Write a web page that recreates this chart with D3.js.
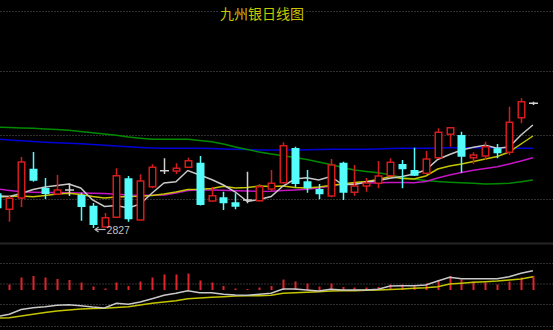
<!DOCTYPE html>
<html>
<head>
<meta charset="utf-8">
<script src="https://cdn.jsdelivr.net/npm/d3@7"></script>
<style>
  html, body { margin: 0; padding: 0; background: #000; }
  svg { display: block; }
</style>
</head>
<body>
<svg id="viz" width="553" height="330"></svg>
<script>
/* Data */

const title = '九州银日线图';
const lowLabel = '2827';
const lowIndex = 8;

// daily candles (index 0 is cut off at the left edge)
const open  = [2966, 2902, 2947, 3064, 2987, 2963, 2979, 2959, 2916, 2831, 2870, 3026, 2859, 2992, 3056, 3055, 3070, 3088, 2935, 2950, 2930, 2939, 2936, 2983, 3008, 3147, 3014, 2983, 2955, 3088, 2970, 2995, 3006, 3036, 3083, 3059, 3046, 3108, 3202, 3199, 3108, 3115, 3146, 3130, 3268, 3326];
const high  = [2979, 2955, 3111, 3131, 3027, 3039, 3006, 2968, 2927, 2887, 3066, 3035, 3042, 3082, 3106, 3086, 3108, 3115, 2992, 2972, 2966, 3052, 3003, 3059, 3170, 3152, 3059, 3003, 3103, 3092, 3079, 3027, 3095, 3106, 3099, 3148, 3135, 3226, 3231, 3212, 3130, 3172, 3163, 3312, 3346, 3332];
const low   = [2891, 2852, 2911, 3012, 2943, 2959, 2955, 2856, 2827, 2830, 2867, 2852, 2859, 2986, 3043, 3043, 3067, 2917, 2933, 2899, 2902, 2926, 2933, 2972, 3005, 2990, 2968, 2942, 2950, 2939, 2956, 2972, 2986, 3033, 2986, 3035, 3043, 3105, 3152, 3048, 3083, 3099, 3106, 3119, 3246, 3319];
const close = [2906, 2946, 3091, 3016, 2963, 2979, 2979, 2911, 2839, 2868, 3036, 2862, 3015, 3070, 3056, 3066, 3096, 2919, 2956, 2926, 2912, 2939, 2992, 3006, 3156, 3003, 2986, 2962, 3079, 2968, 2995, 3007, 3035, 3090, 3062, 3036, 3103, 3210, 3228, 3112, 3119, 3152, 3126, 3250, 3332, 3326];

// moving averages
const ma5   = [2955, 2953, 2965, 2981, 2991, 2997, 3003, 2987, 2939, 2913, 2917, 2907, 2923, 2967, 3007, 3012, 3057, 3039, 3021, 2999, 2971, 2933, 2941, 2953, 2995, 3023, 3028, 3019, 3033, 3001, 3001, 3011, 3017, 3026, 3033, 3043, 3059, 3101, 3121, 3139, 3150, 3158, 3146, 3151, 3199, 3239];
const ma10  = [2950, 2953, 2955, 2952, 2957, 2963, 2966, 2961, 2953, 2947, 2951, 2953, 2954, 2957, 2963, 2971, 2981, 2982, 2985, 2994, 2987, 2989, 2995, 2993, 2995, 2989, 2987, 2991, 2997, 3003, 3009, 3013, 3021, 3033, 3025, 3023, 3035, 3063, 3075, 3083, 3093, 3103, 3113, 3131, 3163, 3195];
const ma20  = [2983, 2977, 2972, 2970, 2969, 2969, 2968, 2967, 2966, 2965, 2962, 2959, 2958, 2958, 2959, 2967, 2977, 2979, 2979, 2978, 2976, 2975, 2973, 2974, 2977, 2979, 2982, 2987, 2995, 3003, 3005, 3007, 3008, 3009, 3009, 3008, 3013, 3027, 3039, 3049, 3058, 3065, 3072, 3083, 3095, 3108];
const ma60  = [3230, 3229, 3227, 3226, 3223, 3221, 3218, 3213, 3208, 3203, 3198, 3191, 3186, 3182, 3182, 3182, 3182, 3177, 3172, 3163, 3151, 3141, 3131, 3123, 3116, 3109, 3101, 3091, 3081, 3069, 3059, 3053, 3048, 3040, 3029, 3023, 3017, 3013, 3010, 3008, 3006, 3003, 3004, 3006, 3012, 3019];
const ma120 = [3183, 3179, 3176, 3173, 3170, 3168, 3166, 3164, 3161, 3158, 3155, 3152, 3149, 3147, 3146, 3146, 3146, 3146, 3145, 3143, 3142, 3141, 3139, 3139, 3139, 3139, 3140, 3141, 3142, 3142, 3142, 3142, 3143, 3145, 3146, 3146, 3146, 3147, 3148, 3148, 3148, 3148, 3148, 3147, 3146, 3146];

// MACD panel
const macd = [4, 11, 25, 28, 25, 22, 20, 15, 7, 3, 15, 8, 17, 25, 31, 31, 33, 19, 15, 8, 3, 2, 5, 8, 21, 17, 13, 7, 13, 6, 5, 5, 6, 11, 11, 10, 13, 20, 28, 21, 17, 15, 11, 17, 25, 28];
const dif  = [-53, -48.6, -39, -35.4, -33.4, -30.6, -29.4, -31.4, -34, -36, -26.6, -28.6, -24, -17.4, -10.6, -6.6, -1.4, -5.4, -5.4, -8.6, -10, -10.6, -8.6, -6.6, 2, 2, 0, -2, 1.4, 0, 0, 0, 1.4, 8, 8.6, 8.6, 10, 18, 25.4, 22.6, 22.6, 22.6, 22.6, 26.6, 33.4, 38.6];
const dea  = [-56.4, -55.6, -52, -48.4, -45, -42, -40, -38, -37.2, -36.6, -35, -33.4, -30, -26.6, -24, -21.4, -17.4, -16, -14.6, -13.4, -12, -11.6, -11.4, -10.6, -6.6, -5.6, -4.6, -3.4, -2, -1.6, -1.4, -0.6, 0, 1, 2, 3.4, 4.6, 6.6, 12, 13.6, 15.4, 16.6, 18, 20, 22, 26.6];

/* Visualization */

const width = 553;
const svg = d3.select('#viz');

const candles = open.map((o, i) => ({ i, o, h: high[i], l: low[i], c: close[i] }));

const xScale = d3.scaleLinear().domain([0, 45]).range([-2.6, 532.9]);
const yScale = d3.scaleLinear().domain([2767, 3455]).range([243, 71]);
const mScale = d3.scaleLinear().domain([-70, 94]).range([325, 243]);

// background
svg.append('rect').attr('width', width).attr('height', 330).attr('fill', '#000');

// grid lines
const grid = svg.append('g');
grid.selectAll('line.dot')
  .data([11, 71, 135, 199, 263, 283.5, 304, 326])
  .join('line')
  .attr('class', 'dot')
  .attr('x1', 0).attr('x2', width)
  .attr('y1', (d) => d + 0.5).attr('y2', (d) => d + 0.5)
  .attr('stroke', '#303030')
  .attr('stroke-width', 1)
  .attr('stroke-dasharray', '2,1');

grid.append('line')
  .attr('x1', 0).attr('x2', width)
  .attr('y1', 243.5).attr('y2', 243.5)
  .attr('stroke', '#262626')
  .attr('stroke-width', 2);

// title
const titleText = svg.append('text')
  .attr('x', 262)
  .attr('y', 19)
  .attr('text-anchor', 'middle')
  .attr('font-family', '"Noto Sans CJK SC", sans-serif')
  .attr('font-size', 14)
  .attr('fill', '#c8c800')
  .text(title);
const tb = titleText.node().getBBox();
svg.insert('rect', 'text')
  .attr('x', tb.x - 1).attr('y', 8)
  .attr('width', tb.width + 2).attr('height', 6)
  .attr('fill', '#000');

// moving average lines
const priceLine = d3.line().x((d, i) => xScale(i)).y((d) => yScale(d));
const maLines = [
  { data: ma120, color: '#0000d8' },
  { data: ma60, color: '#008a00' },
  { data: ma20, color: '#c414c4' },
  { data: ma10, color: '#c4c400' },
  { data: ma5, color: '#c8c8c8' },
];
svg.append('g')
  .selectAll('path')
  .data(maLines)
  .join('path')
  .attr('fill', 'none')
  .attr('stroke', (d) => d.color)
  .attr('stroke-width', 1.5)
  .attr('d', (d) => priceLine(d.data));

// candles
const red = '#d41c1c';
const cyan = '#54fcfc';
const doji = '#d0d0d0';
const bodyW = 8;
const cg = svg.append('g');

candles.forEach((d) => {
  const cx = Math.round(xScale(d.i)) + 0.5;
  if (d.c > d.o) {
    cg.append('line')
      .attr('x1', cx).attr('x2', cx)
      .attr('y1', yScale(d.h)).attr('y2', yScale(d.c))
      .attr('stroke', red).attr('stroke-width', 1.5);
    cg.append('line')
      .attr('x1', cx).attr('x2', cx)
      .attr('y1', yScale(d.o)).attr('y2', yScale(d.l))
      .attr('stroke', red).attr('stroke-width', 1.5);
    cg.append('rect')
      .attr('x', cx - bodyW / 2 + 0.75)
      .attr('y', yScale(d.c))
      .attr('width', bodyW - 1.5)
      .attr('height', Math.max(1, yScale(d.o) - yScale(d.c)))
      .attr('fill', '#000')
      .attr('stroke', red)
      .attr('stroke-width', 1.5);
  } else if (d.c < d.o) {
    cg.append('line')
      .attr('x1', cx).attr('x2', cx)
      .attr('y1', yScale(d.h)).attr('y2', yScale(d.l))
      .attr('stroke', cyan).attr('stroke-width', 1.5);
    cg.append('rect')
      .attr('x', cx - bodyW / 2)
      .attr('y', yScale(d.o))
      .attr('width', bodyW)
      .attr('height', Math.max(1, yScale(d.c) - yScale(d.o)))
      .attr('fill', cyan);
  } else {
    cg.append('line')
      .attr('x1', cx).attr('x2', cx)
      .attr('y1', yScale(d.h)).attr('y2', yScale(d.l))
      .attr('stroke', doji).attr('stroke-width', 1.5);
    cg.append('line')
      .attr('x1', cx - bodyW / 2 - 0.5).attr('x2', cx + bodyW / 2 + 0.5)
      .attr('y1', yScale(d.c)).attr('y2', yScale(d.c))
      .attr('stroke', doji).attr('stroke-width', 1.5);
  }
});

// lowest price marker
const lx = xScale(lowIndex);
const ly = yScale(+lowLabel) + 1.5;
const mark = svg.append('g').attr('stroke', '#b8b8b8').attr('fill', 'none');
mark.append('line').attr('x1', lx + 3).attr('x2', lx + 13).attr('y1', ly).attr('y2', ly).attr('stroke-width', 1.2);
mark.append('path').attr('d', `M${lx + 6},${ly - 2.5}L${lx + 2.5},${ly}L${lx + 6},${ly + 2.5}`).attr('stroke-width', 1.2);
svg.append('text')
  .attr('x', lx + 14)
  .attr('y', ly + 4)
  .attr('font-family', '"Liberation Sans", Arial, sans-serif')
  .attr('font-size', 10.5)
  .attr('fill', '#c0c0c0')
  .text(lowLabel);

// MACD panel
svg.append('g')
  .selectAll('line')
  .data(macd)
  .join('line')
  .attr('x1', (d, i) => Math.round(xScale(i)) + 0.5)
  .attr('x2', (d, i) => Math.round(xScale(i)) + 0.5)
  .attr('y1', mScale(0))
  .attr('y2', (d) => mScale(d))
  .attr('stroke', '#e0242c')
  .attr('stroke-width', 2);

const macdLine = d3.line().x((d, i) => xScale(i)).y((d) => mScale(d));
svg.append('g')
  .selectAll('path')
  .data([{ data: dea, color: '#c4c400' }, { data: dif, color: '#c8c8c8' }])
  .join('path')
  .attr('fill', 'none')
  .attr('stroke', (d) => d.color)
  .attr('stroke-width', 1.5)
  .attr('d', (d) => macdLine(d.data));
</script>
</body>
</html>
